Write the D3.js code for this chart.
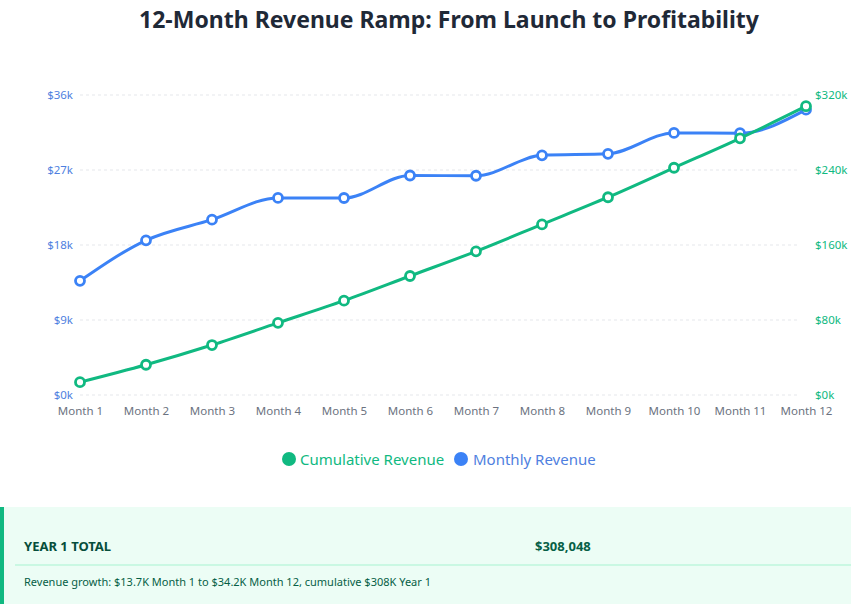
<!DOCTYPE html>
<html>
<head>
<meta charset="utf-8">
<script src="https://cdn.jsdelivr.net/npm/d3@7"></script>
<style>
  body { margin: 0; background: #fff; font-family: "Noto Sans", "Open Sans", sans-serif; }
</style>
</head>
<body>
<script>
// chart data
const months = ["Month 1", "Month 2", "Month 3", "Month 4", "Month 5", "Month 6",
                "Month 7", "Month 8", "Month 9", "Month 10", "Month 11", "Month 12"]
const monthlyRevenue = [13700, 18560, 21040, 23650, 23640, 26340, 26310, 28760, 28940, 31450, 31420, 34238]
const leftTicks = [0, 9000, 18000, 27000, 36000]
const rightTicks = [0, 80000, 160000, 240000, 320000]
const seriesNames = ["Cumulative Revenue", "Monthly Revenue"]

// running total
let run = 0
const cumulativeRevenue = monthlyRevenue.map(v => run += v)
const yearTotal = cumulativeRevenue[cumulativeRevenue.length - 1]

const green = "#10b981"
const blue = "#3b82f6"

var w = 851
var h = 604

var svg = d3.select("body")
            .append("svg")
            .attr("width", w)
            .attr("height", h)

// title
svg.append("text")
   .attr("x", 449)
   .attr("y", 28)
   .attr("text-anchor", "middle")
   .attr("font-size", 23)
   .attr("font-weight", "bold")
   .attr("fill", "#1f2937")
   .text("12-Month Revenue Ramp: From Launch to Profitability")

const xScale = d3.scalePoint()
  .domain(months)
  .range([80, 806])

const yLeft = d3.scaleLinear()
  .domain([0, 36000])
  .range([395, 95])

const yRight = d3.scaleLinear()
  .domain([0, 320000])
  .range([395, 95])

// grid lines
svg.append("g")
   .selectAll("line")
   .data(leftTicks)
   .enter()
   .append("line")
   .attr("x1", 80)
   .attr("x2", 800)
   .attr("y1", d => yLeft(d))
   .attr("y2", d => yLeft(d))
   .attr("stroke", "#e5e7eb")
   .attr("stroke-dasharray", "3,3")

// left axis
const leftAxis = d3.axisLeft(yLeft).tickValues(leftTicks)
  .tickFormat(d => "$" + d / 1000 + "k").tickSize(0).tickPadding(7)
const gl = svg.append("g")
   .attr("transform", "translate(80,0)")
   .call(leftAxis)
gl.select(".domain").remove()
gl.selectAll("text").attr("fill", "#4f7fe0").attr("font-size", 11.5)
  .attr("font-family", "Noto Sans, sans-serif")

// right axis
const rightAxis = d3.axisRight(yRight).tickValues(rightTicks)
  .tickFormat(d => "$" + d / 1000 + "k").tickSize(0).tickPadding(9)
const gr = svg.append("g")
   .attr("transform", "translate(806,0)")
   .call(rightAxis)
gr.select(".domain").remove()
gr.selectAll("text").attr("fill", green).attr("font-size", 11.5)
  .attr("font-family", "Noto Sans, sans-serif")

// x axis
const xAxis = d3.axisBottom(xScale).tickSize(0).tickPadding(9)
const gx = svg.append("g")
   .attr("transform", "translate(0,398)")
   .call(xAxis)
gx.select(".domain").remove()
gx.selectAll("text").attr("fill", "#6b7280").attr("font-size", 11.5)
  .attr("font-family", "Noto Sans, sans-serif")

// lines
function drawSeries(values, scale, color) {
    const line = d3.line()
      .x((d, i) => xScale(months[i]))
      .y(d => scale(d))
      .curve(d3.curveMonotoneX)

    svg.append("path")
       .datum(values)
       .attr("d", line)
       .attr("fill", "none")
       .attr("stroke", color)
       .attr("stroke-width", 3)

    svg.append("g")
       .selectAll("circle")
       .data(values)
       .enter()
       .append("circle")
       .attr("cx", (d, i) => xScale(months[i]))
       .attr("cy", d => scale(d))
       .attr("r", 4.5)
       .attr("fill", "#fff")
       .attr("stroke", color)
       .attr("stroke-width", 2.8)
}

drawSeries(monthlyRevenue, yLeft, blue)
drawSeries(cumulativeRevenue, yRight, green)

// legend
const legend = svg.append("g").attr("transform", "translate(289,459)")
legend.append("circle").attr("cx", 0).attr("cy", 0).attr("r", 7).attr("fill", green)
legend.append("text").attr("x", 11).attr("y", 5.5).attr("font-size", 15)
      .attr("fill", green).text(seriesNames[0])
legend.append("circle").attr("cx", 172).attr("cy", 0).attr("r", 7).attr("fill", blue)
legend.append("text").attr("x", 184).attr("y", 5.5).attr("font-size", 15)
      .attr("fill", "#4f7fe0").text(seriesNames[1])

// summary panel
svg.append("rect").attr("x", 0).attr("y", 507).attr("width", w).attr("height", 97)
   .attr("fill", "#ecfdf5")
svg.append("rect").attr("x", 0).attr("y", 507).attr("width", 4).attr("height", 97)
   .attr("fill", green)
svg.append("text").attr("x", 24).attr("y", 551).attr("font-size", 13)
   .attr("font-weight", "bold").attr("fill", "#064e3b").text("YEAR 1 TOTAL")
svg.append("text").attr("x", 535).attr("y", 551).attr("font-size", 13)
   .attr("font-weight", "bold").attr("fill", "#065f46").text("$" + d3.format(",")(yearTotal))
svg.append("line").attr("x1", 15).attr("x2", w).attr("y1", 565).attr("y2", 565)
   .attr("stroke", "#a7f3d0")
svg.append("text").attr("x", 24).attr("y", 586).attr("font-size", 11)
   .attr("fill", "#065f46")
   .text("Revenue growth: $" + (monthlyRevenue[0] / 1000).toFixed(1) + "K Month 1 to $"
         + (monthlyRevenue[11] / 1000).toFixed(1) + "K Month 12, cumulative $"
         + Math.round(yearTotal / 1000) + "K Year 1")
</script>
</body>
</html>
